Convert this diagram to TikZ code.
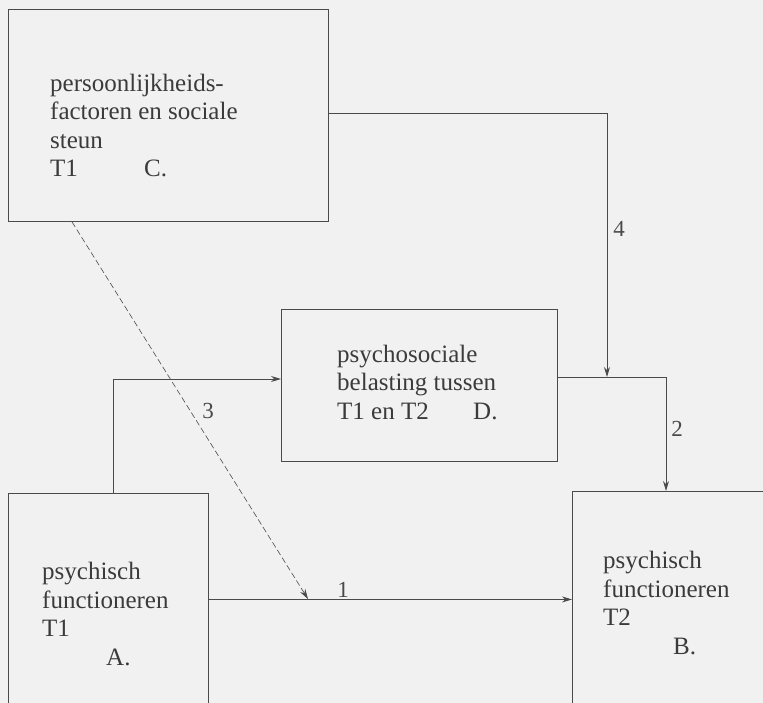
\documentclass[tikz,border=0pt]{standalone}
\usepackage{fontspec}
\setmainfont{Liberation Serif}
\usetikzlibrary{arrows.meta, positioning}
\definecolor{ink}{HTML}{4A4A4A}
\definecolor{paper}{HTML}{F1F1F1}

\begin{document}
\begin{tikzpicture}[
    x=1pt, y=-1pt,
    box/.style={rectangle, draw=ink, line width=0.9pt, inner sep=0pt, anchor=north west},
    txt/.style={anchor=base west, align=left, inner sep=0pt, text=ink!80!black,
        font=\fontsize{25}{28.5}\selectfont},
    num/.style={inner sep=0pt, text=ink, font=\fontsize{23}{24}\selectfont},
    arr/.style={-{Stealth[length=10pt, width=6pt]}, line width=0.9pt, draw=ink},
    dasharr/.style={arr, line width=0.6pt, dash pattern=on 6pt off 3pt}
]
\useasboundingbox (0,0) rectangle (763,703);
\fill[paper] (0,0) rectangle (763,703);
\clip (0,0) rectangle (763,703);

% boxes
\node[box, minimum width=320pt, minimum height=212pt] (C) at (8,9) {};
\node[box, minimum width=276pt, minimum height=152pt] (D) at (281,309) {};
\node[box, minimum width=200pt, minimum height=212pt] (A) at (8,493) {};
\node[box, minimum width=250pt, minimum height=216pt] (B) at (572,491) {};

% texts (anchored at the last line)
\node[txt] (Ctxt) at (50,177) {persoonlijkheids-\\factoren en sociale\\steun\\\makebox[94pt][l]{T1}C.};
\node[txt] (Dtxt) at (337,419) {psychosociale\\belasting tussen\\\makebox[136pt][l]{T1 en T2}D.};
\node[txt] (Atxt) at (42,665) {psychisch\\functioneren\\T1\\\hspace*{64pt}A.};
\node[txt] (Btxt) at (603,654) {psychisch\\functioneren\\T2\\\hspace*{70pt}B.};

% junctions
\coordinate (k2) at (666,377);
\coordinate (j4) at (607,377);
\coordinate (k3) at (113,379);
\coordinate (j1) at (308,599);
\coordinate (d0) at (72,221);

% connectors
\draw[arr] (A) -- (B);
\draw[arr] (D.east |- k2) -- (k2) -- (k2 |- B.north);
\draw[arr] (A.north -| k3) |- (D.west |- k3);
\draw[arr] ([yshift=2pt]C.east) -| (j4);
\draw[dasharr] (C.south -| d0) -- (j1);

\node[num] (n1) at (343,590) {1};
\node[num] (n2) at (677,429) {2};
\node[num] (n3) at (208,411) {3};
\node[num] (n4) at (619,229) {4};
\end{tikzpicture}
\end{document}
